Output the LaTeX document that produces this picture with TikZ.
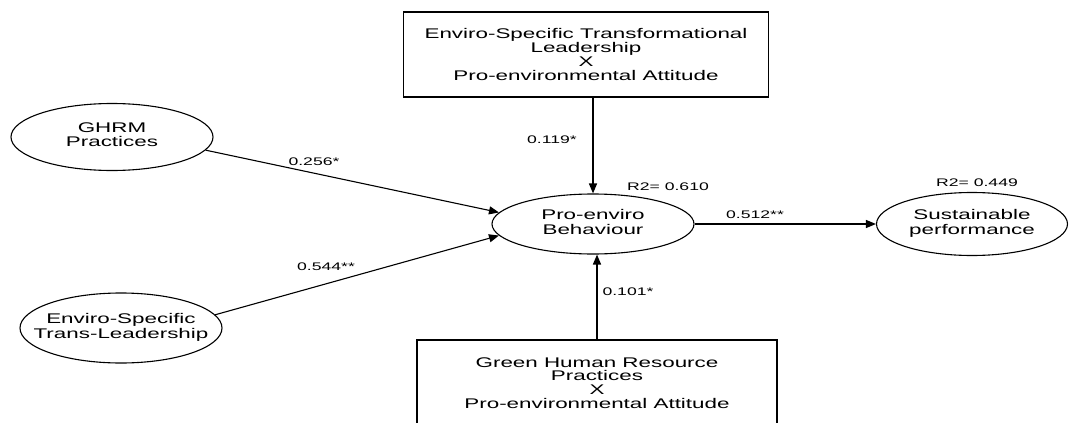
\documentclass[tikz,border=0pt]{standalone}
\usepackage{fontspec}
\newfontfamily\diagfont[FakeStretch=1.6]{Liberation Sans}
\usetikzlibrary{shapes.geometric, arrows.meta}
\newcommand{\ovaltext}[1]{\makebox[0pt]{\begin{tabular}{@{}c@{}}#1\end{tabular}}}

\begin{document}
\begin{tikzpicture}[x=1pt, y=-1pt, font=\diagfont\fontsize{14}{13.7}\selectfont,
		oval/.style={draw, ellipse, line width=1.1pt, inner sep=0pt, minimum width=202pt, minimum height=66pt},
		box/.style={draw, rectangle, line width=1.1pt, align=center, minimum width=365pt},
		coef/.style={font=\diagfont\fontsize{11}{12}\selectfont, inner sep=0pt},
		link/.style={-{Triangle[length=10pt, width=8pt]}, line width=1.1pt}]
		\clip (0, 0) rectangle (1069, 423);
		% moderators
		\node[box, minimum height=85pt] (mod1) at (586, 54.5) {Enviro-Specific Transformational\\Leadership\\X\\Pro-environmental Attitude};
		\node[box, minimum width=360pt, minimum height=86pt] (mod2) at (597, 383) {Green Human Resource\\Practices\\X\\Pro-environmental Attitude};
		% constructs
		\node[oval, minimum height=67pt] (ghrm) at (112, 137) {\ovaltext{GHRM\\Practices}};
		\node[oval, minimum height=70pt] (estl) at (121, 328) {\ovaltext{Enviro-Specific\\Trans-Leadership}};
		\node[oval, minimum height=60pt] (peb) at (593, 224) {\ovaltext{Pro-enviro\\Behaviour}};
		\node[oval, minimum width=191pt, minimum height=63pt] (sp) at (972, 224) {\ovaltext{Sustainable\\performance}};
		% paths
		\draw[link] (ghrm.-8) -- (peb.173);
		\draw[link] (estl.8) -- (peb.-173);
		\draw[link, line width=1.5pt] (mod1.south -| peb.north) -- (peb.north);
		\draw[link, line width=1.5pt] (mod2.north) -- (mod2.north |- peb.south);
		\draw[link] (peb.east) -- (sp.west);
		\node[coef] (b1) at (314, 162) {0.256*};
		\node[coef] (b2) at (326, 267) {0.544**};
		\node[coef] (b3) at (552, 140) {0.119*};
		\node[coef] (b4) at (628, 292) {0.101*};
		\node[coef] (b5) at (755, 215) {0.512**};
		\node[coef] (r1) at (668, 187) {R2= 0.610};
		\node[coef] (r2) at (977, 183) {R2= 0.449};
	\end{tikzpicture}
\end{document}
